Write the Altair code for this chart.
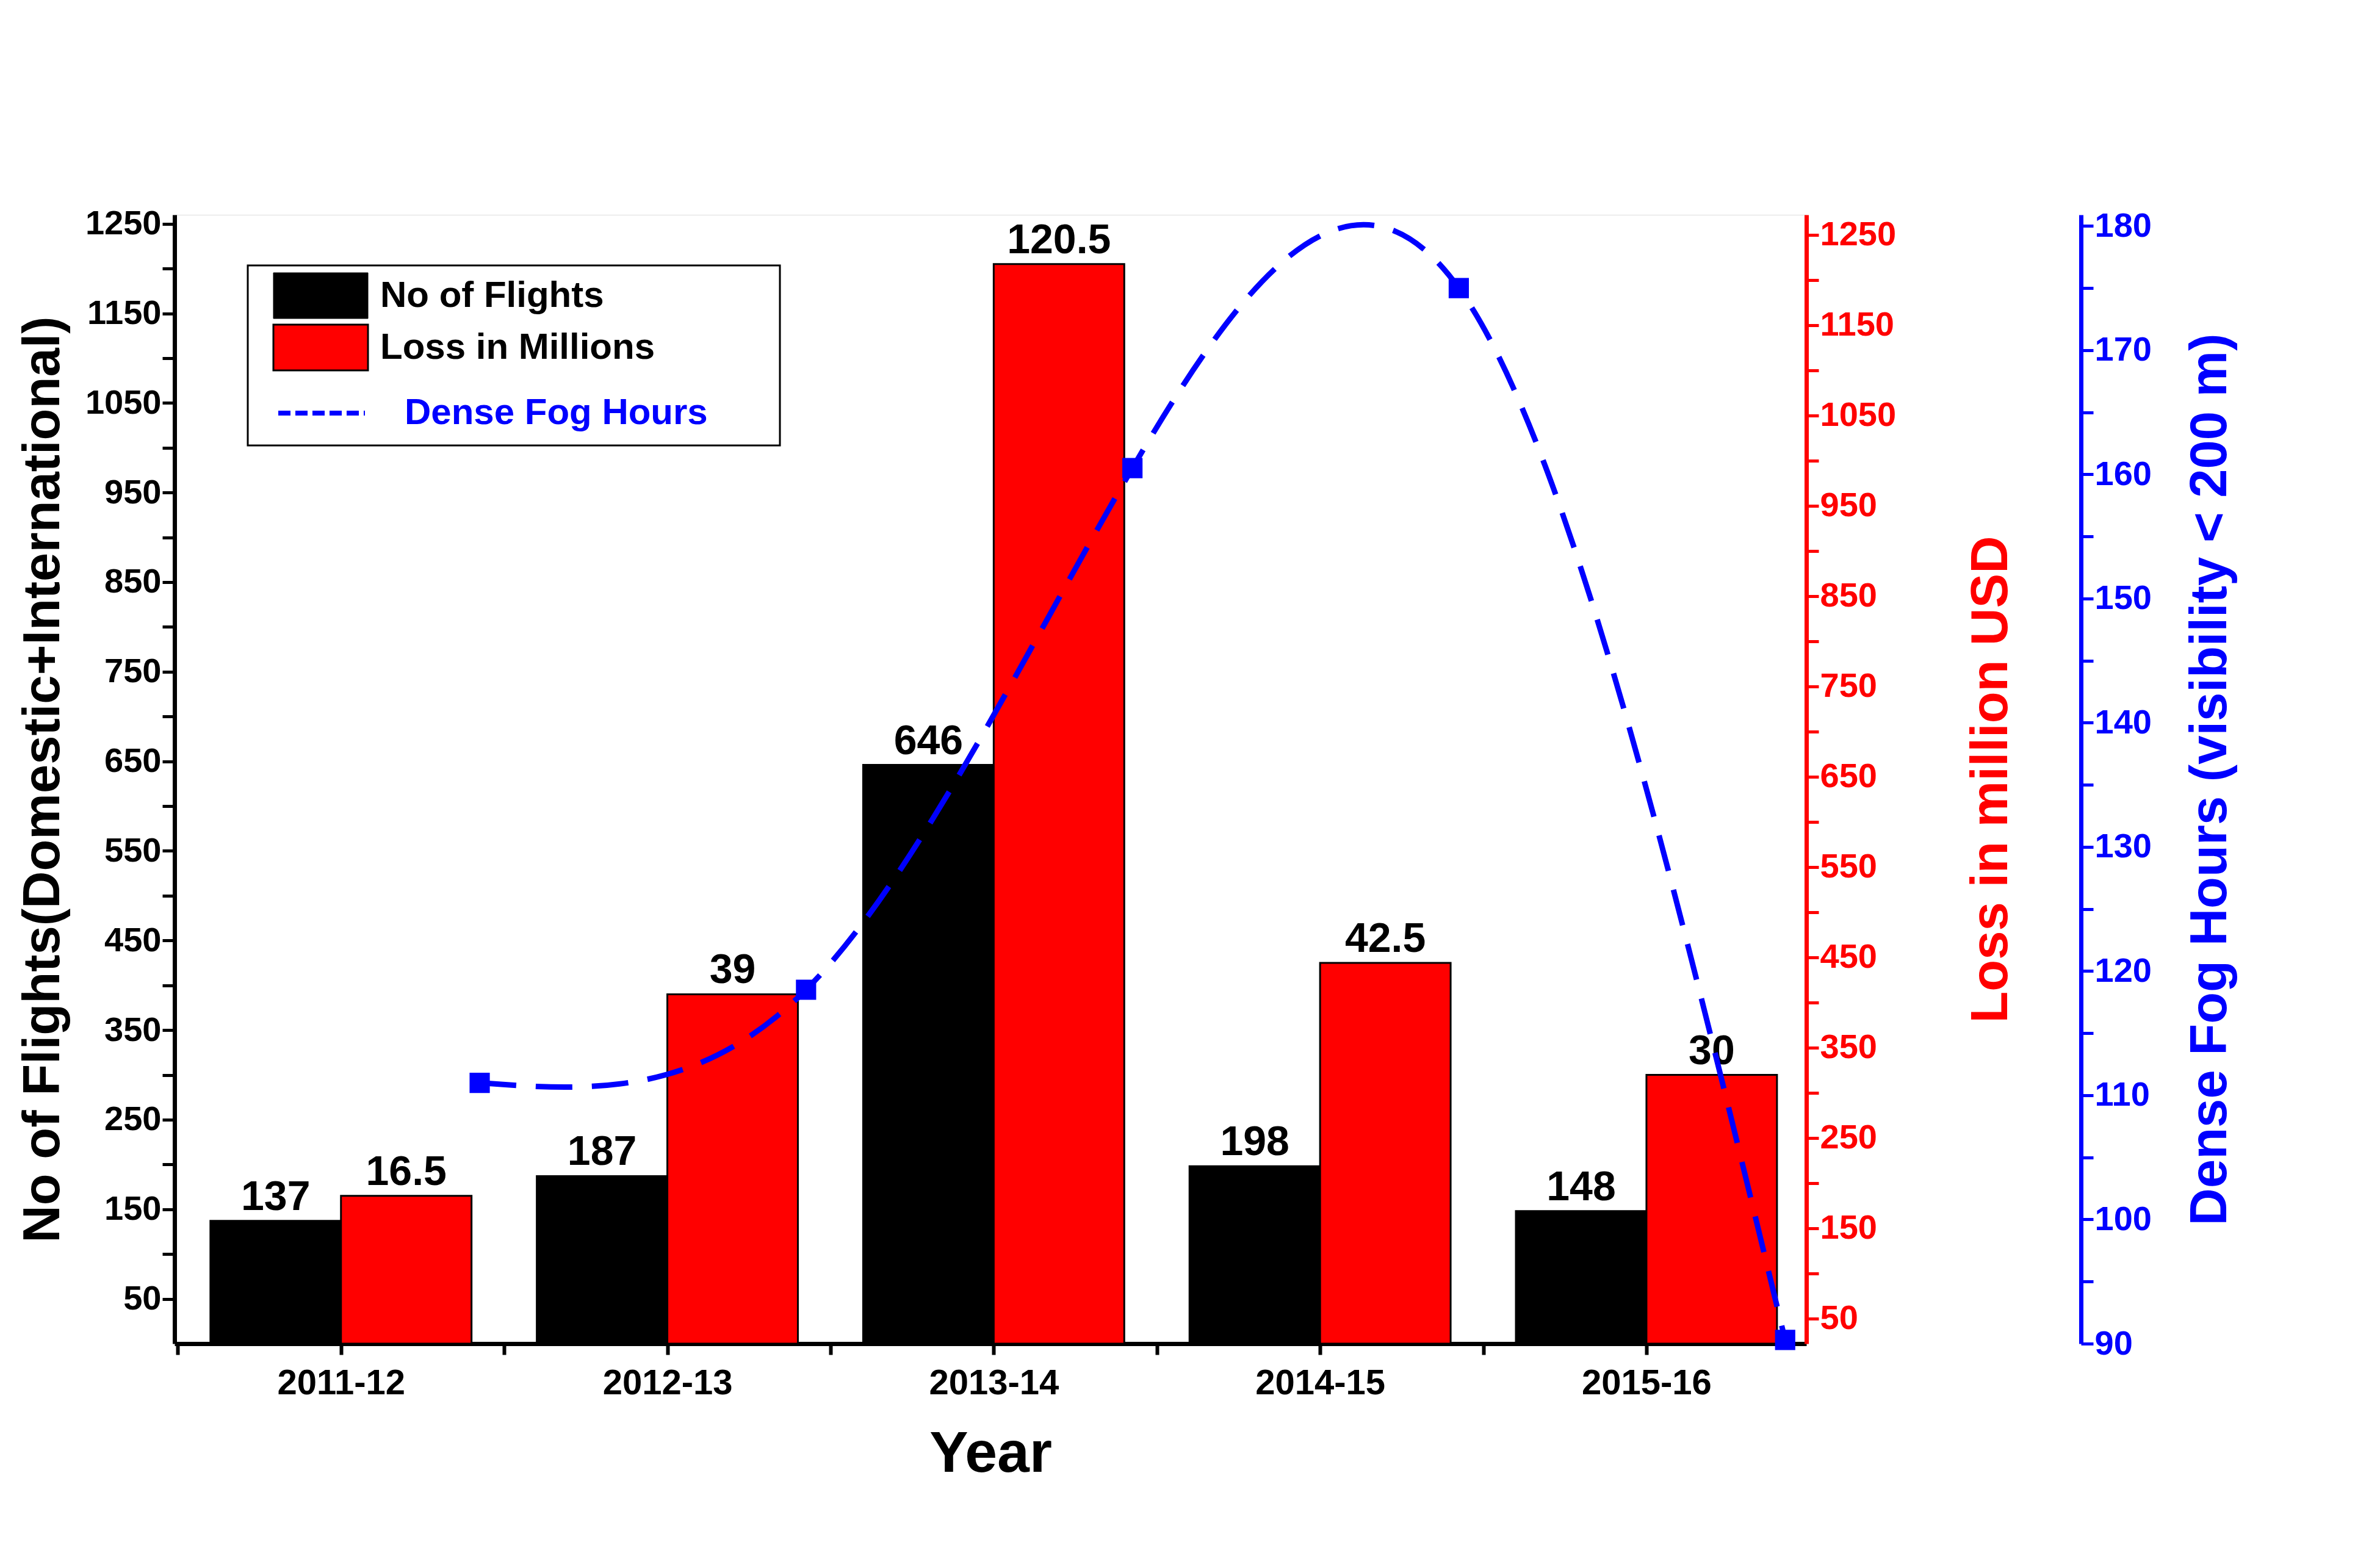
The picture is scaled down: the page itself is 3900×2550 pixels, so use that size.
import altair as alt
import pandas as pd

years = ["2011-12", "2012-13", "2013-14", "2014-15", "2015-16"]
flights = [137, 187, 646, 198, 148]
loss = [16.5, 39, 120.5, 42.5, 30]
fog_hours = [111, 118.5, 160.5, 175, 90.3]

F = "Liberation Sans"
idx = list(range(len(years)))

bars_df = pd.DataFrame({
    "i": idx * 2,
    "series": ["No of Flights"] * 5 + ["Loss in Millions"] * 5,
    "h": flights + [v * 10 for v in loss],
    "label": [str(v) for v in flights] + [f"{v:g}" for v in loss],
    "side": [0] * 5 + [1] * 5,
})
fog_df = pd.DataFrame({"i": idx, "fog": fog_hours})

xdom = [-0.51, 4.49]
year_expr = "['2011-12','2012-13','2013-14','2014-15','2015-16'][datum.value]"
xaxis = alt.Axis(values=[x / 2 for x in range(-1, 10)],
                 labelExpr=f"datum.value % 1 == 0 ? {year_expr} : ''",
                 title="Year", titleFontSize=95, titlePadding=40, titleFontWeight="bold",
                 labelFontSize=58, labelPadding=18, labelFontWeight="bold", labelLimit=0,
                 tickSize=18, tickWidth=6,
                 domainWidth=7, domainColor="black", tickColor="black", grid=False)

def yaxis(color, title, **kw):
    vals = kw.pop("vals", list(range(50, 1300, 50)))
    return alt.Axis(values=vals, format="d",
                    title=title, titleColor=color, titleFontSize=85, titleFont=F,
                    titleFontWeight="bold",
                    labelColor=color, labelFontSize=56, labelFont=F, labelFontWeight="bold",
                    labelLimit=0,
                    domainColor=color, tickColor=color, domainWidth=7, tickWidth=5,
                    tickSize=20, grid=False, **kw)

base = alt.Chart(bars_df).transform_calculate(
    x0="datum.i - 0.4 + datum.side * 0.4", x1="datum.i + datum.side * 0.4",
    xm="datum.i - 0.2 + datum.side * 0.4")

bars = base.mark_bar(stroke="black", strokeWidth=3).encode(
    x=alt.X("x0:Q", scale=alt.Scale(domain=xdom, nice=False, zero=False), axis=xaxis),
    x2="x1:Q",
    y=alt.Y("h:Q", scale=alt.Scale(domain=[0, 1260], nice=False),
            axis=yaxis("black", "No of Flights(Domestic+International)",
                       labelExpr="(datum.value - 50) % 100 == 0 ? datum.label : ''",
                       titlePadding=25)),
    y2=alt.datum(0),
    color=alt.Color("series:N", scale=alt.Scale(domain=["No of Flights", "Loss in Millions"],
                                                 range=["black", "#ff0000"]), legend=None),
)
labels = base.mark_text(font=F, fontWeight="bold", fontSize=68, dy=-38, color="black").encode(
    x="xm:Q", y="h:Q", text="label:N")
left = alt.layer(bars, labels)

red_axis = base.mark_tick(opacity=0).encode(
    x="xm:Q",
    y=alt.Y("h:Q", scale=alt.Scale(domain=[22, 1272], nice=False, zero=False),
            axis=yaxis("#ff0000", "Loss in million USD", orient="right",
                       labelExpr="(datum.value - 50) % 100 == 0 ? datum.label : ''",
                       titleAngle=270, titlePadding=200)))

fog_base = alt.Chart(fog_df).transform_calculate(xp="datum.i + 0.425")
fog_y = alt.Y("fog:Q", scale=alt.Scale(domain=[90, 180.9], nice=False, zero=False),
              axis=yaxis("#0000ff", "Dense Fog Hours (visibility < 200 m)", orient="right",
                         vals=list(range(90, 181, 5)), offset=450,
                         labelExpr="datum.value % 10 == 0 ? datum.label : ''",
                         titleAngle=270, titlePadding=140))
fog_line = fog_base.mark_line(color="#0000ff", strokeWidth=9, strokeDash=[60, 32],
                              interpolate="natural").encode(x="xp:Q", y=fog_y)
fog_pts = fog_base.mark_square(color="#0000ff", size=1100, opacity=1).encode(x="xp:Q", y="fog:Q")
right = alt.layer(fog_line, fog_pts)

# legend
leg_df = pd.DataFrame({"k": [0]})
lb = alt.Chart(leg_df)
legend = alt.layer(
    lb.mark_rect(fill="white", stroke="black", strokeWidth=3).encode(
        x=alt.value(120), x2=alt.value(992), y=alt.value(83), y2=alt.value(378)),
    lb.mark_rect(fill="black", stroke="black").encode(
        x=alt.value(162), x2=alt.value(317), y=alt.value(95), y2=alt.value(170)),
    lb.mark_rect(fill="#ff0000", stroke="black", strokeWidth=3).encode(
        x=alt.value(162), x2=alt.value(317), y=alt.value(180), y2=alt.value(255)),
    lb.mark_rule(color="#0000ff", strokeWidth=8, strokeDash=[20, 8]).encode(
        x=alt.value(170), x2=alt.value(312), y=alt.value(325)),
    lb.mark_text(text="No of Flights", font=F, fontWeight="bold", fontSize=60, align="left",
                 color="black").encode(x=alt.value(337), y=alt.value(133)),
    lb.mark_text(text="Loss in Millions", font=F, fontWeight="bold", fontSize=60, align="left",
                 color="black").encode(x=alt.value(337), y=alt.value(218)),
    lb.mark_text(text="Dense Fog Hours", font=F, fontWeight="bold", fontSize=60, align="left",
                 color="#0000ff").encode(x=alt.value(377), y=alt.value(325)),
)

chart = alt.layer(left, red_axis, right, legend).resolve_scale(y="independent").properties(
    width=2674, height=1850, padding={"top": 330, "left": 20, "right": 20, "bottom": 20}
).configure_view(stroke=None).configure(background="white")

chart.save("out.html", embed_options={"renderer": "svg", "actions": False})
